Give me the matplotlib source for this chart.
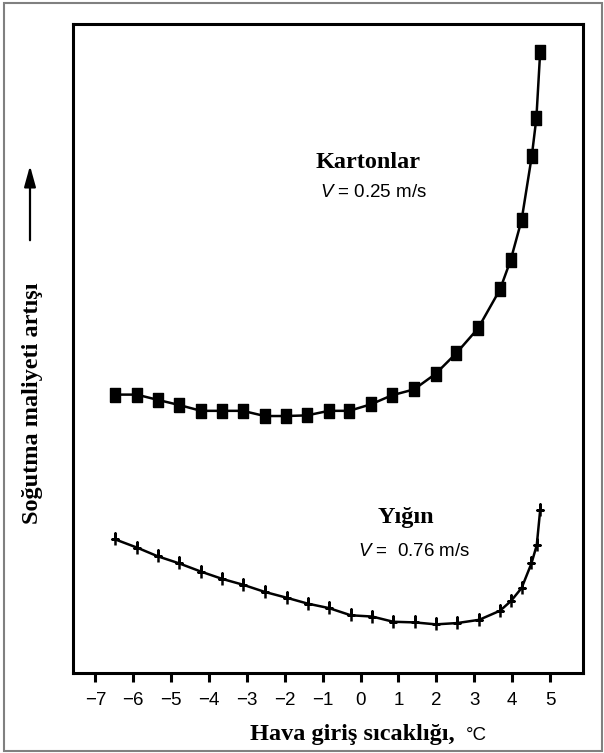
import matplotlib
matplotlib.use("Agg")
import matplotlib.pyplot as plt
from matplotlib.patches import Rectangle

# inlet air temperature (C) and relative cooling cost (arbitrary units)
x_karton = [-6.48, -5.91, -5.36, -4.79, -4.21, -3.66, -3.11, -2.53, -1.97, -1.41, -0.84, -0.30,
            0.27, 0.83, 1.41, 1.98, 2.53, 3.10, 3.68, 3.96, 4.25, 4.52, 4.64, 4.74]
y_karton = [42.9, 42.9, 42.1, 41.3, 40.4, 40.4, 40.4, 39.6, 39.6, 39.7, 40.4, 40.4,
            41.4, 42.8, 43.7, 46.1, 49.3, 53.1, 59.1, 63.6, 69.8, 79.7, 85.5, 95.7]

x_yigin = [-6.48, -5.89, -5.36, -4.79, -4.20, -3.65, -3.10, -2.53, -1.95, -1.40, -0.83, -0.26,
           0.31, 0.86, 1.43, 1.99, 2.55, 3.13, 3.68, 3.97, 4.25, 4.51, 4.65, 4.74]
y_yigin = [20.6, 19.3, 18.0, 16.9, 15.6, 14.5, 13.6, 12.5, 11.6, 10.7, 10.0, 8.9,
           8.7, 7.9, 7.8, 7.5, 7.7, 8.2, 9.6, 11.1, 13.1, 16.9, 19.7, 25.1]

xticks = [-7, -6, -5, -4, -3, -2, -1, 0, 1, 2, 3, 4, 5]

serif = "Liberation Serif"
sans = "Liberation Sans"

plt.rcParams["mathtext.fontset"] = "custom"
plt.rcParams["mathtext.it"] = "Liberation Sans:italic"

fig = plt.figure(figsize=(6.04, 7.53), dpi=100)
ax = fig.add_axes([0.1209, 0.1062, 0.8443, 0.8619])

# tall rectangle marker for cartons, tall cross for the stack
rect = [(-0.72, -1), (0.72, -1), (0.72, 1), (-0.72, 1), (-0.72, -1)]
cross = [(0, -1), (0, 1), (0, 0), (-0.6, 0), (0.6, 0), (0, 0)]
ax.plot(x_karton, y_karton, color="black", lw=1.8, marker=rect, ms=9.5, mfc="black", mec="black")
ax.plot(x_yigin, y_yigin, color="black", lw=1.8, marker=cross, ms=8, mew=1.8, mfc="none", mec="black")

ax.set_xlim(-7.59, 5.87)
ax.set_ylim(0, 100)
ax.set_xticks(xticks)
ax.set_yticks([])
ax.tick_params(axis="x", direction="out", length=6.5, width=2.2, pad=7, labelsize=13.5)
for lab in ax.get_xticklabels():
    lab.set_fontfamily(sans)
for s in ax.spines.values():
    s.set_linewidth(2.2)

ax.text(0.20, 78.7, "Kartonlar", fontsize=17.5, fontweight="bold", family=serif, ha="center", va="center")
ax.text(0.34, 74.0, "$V$ = 0.25 m/s", fontsize=13.5, family=sans, ha="center", va="center")
ax.text(1.2, 24.0, "Yığın", fontsize=17.5, fontweight="bold", family=serif, ha="center", va="center")
ax.text(1.40, 18.8, "$V$ =  0.76 m/s", fontsize=13.5, family=sans, ha="center", va="center")

fig.text(455 / 604, 0.0173, "Hava giriş sıcaklığı,", fontsize=17.5, fontweight="bold", family=serif,
         ha="right", va="baseline")
fig.text(466 / 604, 0.0173, "°C", fontsize=13.5, family=sans, ha="left", va="baseline")

fig.text(33 / 604, (753 - 403.5) / 753, "Soğutma maliyeti artışı", fontsize=17.5, fontweight="bold",
         family=serif, rotation=90, ha="center", va="center")
fig.add_artist(matplotlib.patches.FancyArrowPatch((30 / 604, (753 - 243) / 753), (30 / 604, (753 - 163) / 753),
                                                  transform=fig.transFigure,
                                                  arrowstyle="-|>,head_width=0.25,head_length=0.9",
                                                  mutation_scale=14, lw=1.6, color="black"))

# thin grey frame around the whole figure
fig.add_artist(Rectangle((4 / 604, 2 / 753), 598 / 604, 748 / 753, transform=fig.transFigure,
                         fill=False, edgecolor="#808080", lw=1.5))

fig.savefig("out.png", dpi=100)
